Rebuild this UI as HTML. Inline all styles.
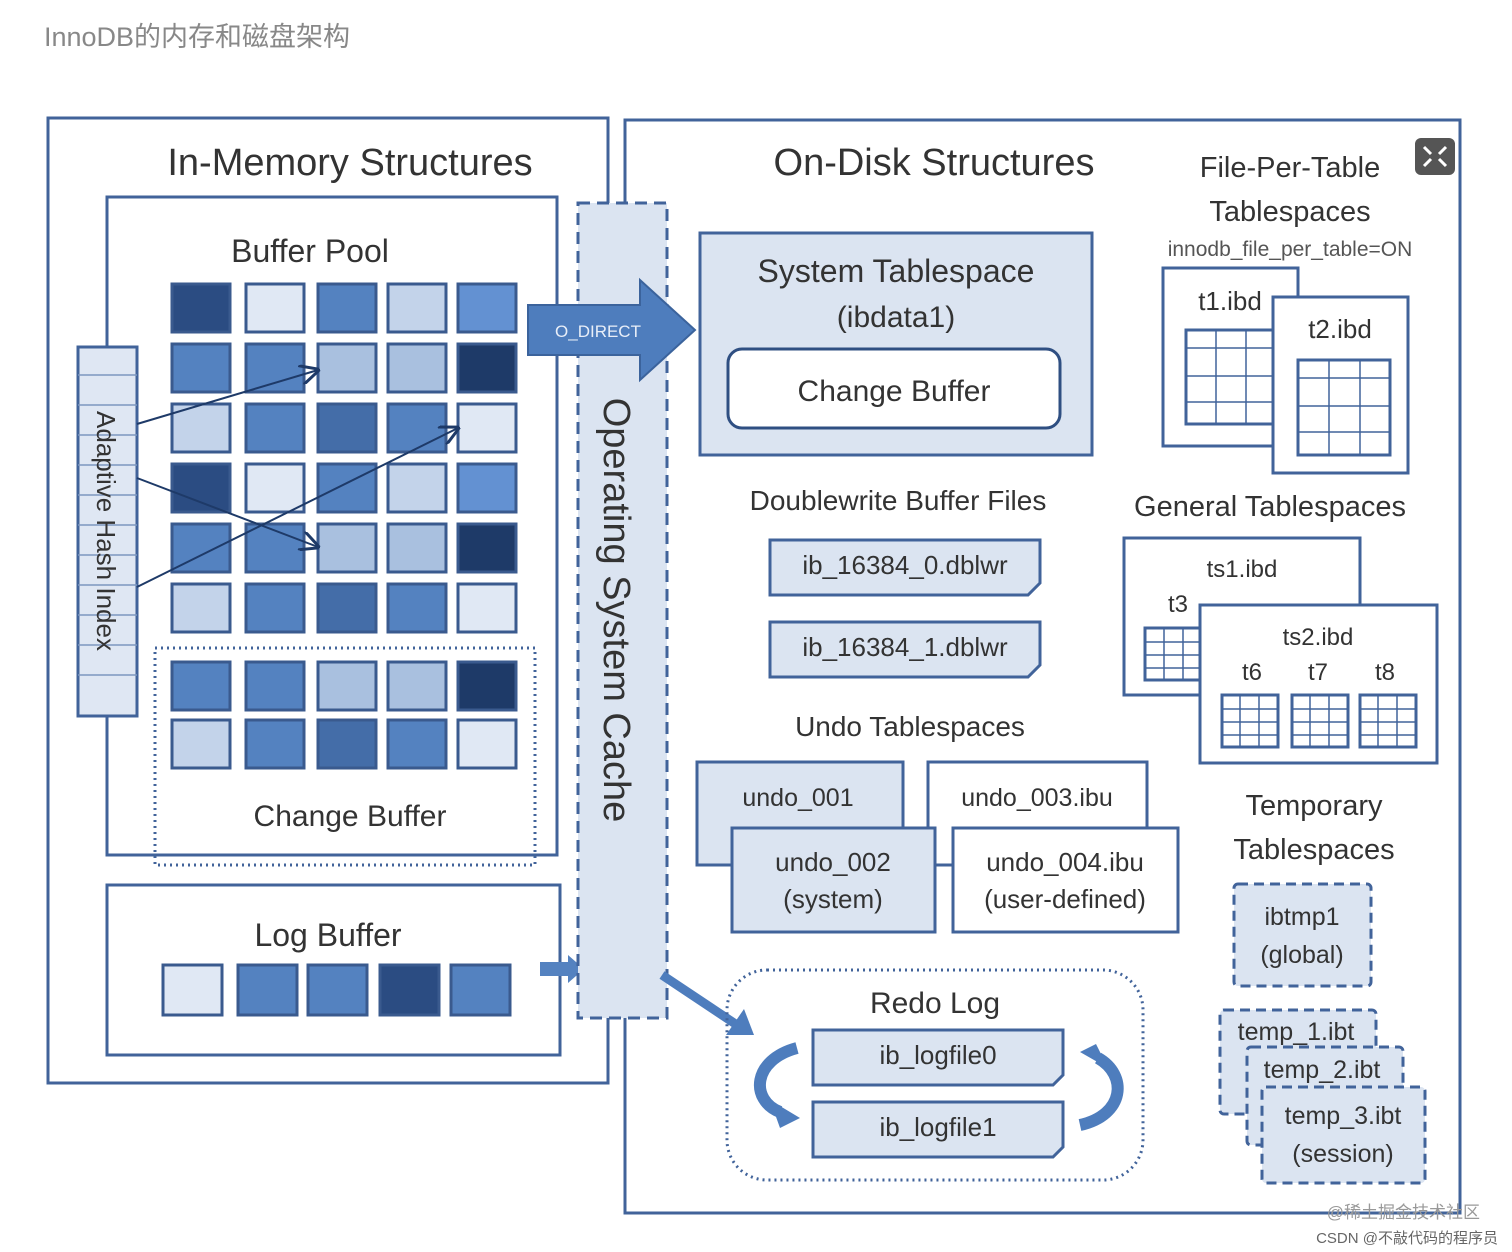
<!DOCTYPE html>
<html><head><meta charset="utf-8"><style>
html,body{margin:0;padding:0;background:#fff;}
svg{display:block;}
text{font-family:"Liberation Sans","Noto Sans CJK SC",sans-serif;fill:#333;}
.b{fill:none;stroke:#41639a;stroke-width:3;}
.c rect{stroke:#3a5a8e;stroke-width:3;}
.d{fill:#2b4c82}.k{fill:#1e3a68}.m{fill:#5482c0}.n{fill:#446da8}.l{fill:#a9c0df}.q{fill:#c3d3ea}.p{fill:#e0e8f4}.x{fill:#6391d2}
.g{fill:#fff;stroke:#41639a;stroke-width:3;}
.gl{stroke:#41639a;stroke-width:1.5;}
</style></head><body>
<svg width="1512" height="1252" viewBox="0 0 1512 1252" xmlns="http://www.w3.org/2000/svg">
<text x="44" y="46" font-size="27" style="fill:#888">InnoDB的内存和磁盘架构</text>

<!-- left outer -->
<rect x="48" y="118" width="560" height="965" class="b"/>
<text x="350" y="175" font-size="38" text-anchor="middle">In-Memory Structures</text>
<rect x="107" y="197" width="450" height="658" class="b"/>
<text x="310" y="262" font-size="32" text-anchor="middle">Buffer Pool</text>

<g class="c">
<rect x="172" y="284" width="58" height="48" class="d"/><rect x="246" y="284" width="58" height="48" class="p"/><rect x="318" y="284" width="58" height="48" class="m"/><rect x="388" y="284" width="58" height="48" class="q"/><rect x="458" y="284" width="58" height="48" class="x"/>
<rect x="172" y="344" width="58" height="48" class="m"/><rect x="246" y="344" width="58" height="48" class="m"/><rect x="318" y="344" width="58" height="48" class="l"/><rect x="388" y="344" width="58" height="48" class="l"/><rect x="458" y="344" width="58" height="48" class="k"/>
<rect x="172" y="404" width="58" height="48" class="q"/><rect x="246" y="404" width="58" height="48" class="m"/><rect x="318" y="404" width="58" height="48" class="n"/><rect x="388" y="404" width="58" height="48" class="m"/><rect x="458" y="404" width="58" height="48" class="p"/>
<rect x="172" y="464" width="58" height="48" class="d"/><rect x="246" y="464" width="58" height="48" class="p"/><rect x="318" y="464" width="58" height="48" class="m"/><rect x="388" y="464" width="58" height="48" class="q"/><rect x="458" y="464" width="58" height="48" class="x"/>
<rect x="172" y="524" width="58" height="48" class="m"/><rect x="246" y="524" width="58" height="48" class="m"/><rect x="318" y="524" width="58" height="48" class="l"/><rect x="388" y="524" width="58" height="48" class="l"/><rect x="458" y="524" width="58" height="48" class="k"/>
<rect x="172" y="584" width="58" height="48" class="q"/><rect x="246" y="584" width="58" height="48" class="m"/><rect x="318" y="584" width="58" height="48" class="n"/><rect x="388" y="584" width="58" height="48" class="m"/><rect x="458" y="584" width="58" height="48" class="p"/>
<rect x="172" y="662" width="58" height="48" class="m"/><rect x="246" y="662" width="58" height="48" class="m"/><rect x="318" y="662" width="58" height="48" class="l"/><rect x="388" y="662" width="58" height="48" class="l"/><rect x="458" y="662" width="58" height="48" class="k"/>
<rect x="172" y="720" width="58" height="48" class="q"/><rect x="246" y="720" width="58" height="48" class="m"/><rect x="318" y="720" width="58" height="48" class="n"/><rect x="388" y="720" width="58" height="48" class="m"/><rect x="458" y="720" width="58" height="48" class="p"/>
</g>
<rect x="155" y="648" width="380" height="217" fill="none" stroke="#41639a" stroke-width="3" stroke-dasharray="2 4"/>
<text x="350" y="826" font-size="30" text-anchor="middle">Change Buffer</text>

<!-- AHI -->
<rect x="78" y="347" width="59" height="369" fill="#dfe7f3" stroke="#41639a" stroke-width="3"/>
<g stroke="#7d97c0" stroke-width="1.5">
<line x1="78" y1="375" x2="137" y2="375"/><line x1="78" y1="405" x2="137" y2="405"/><line x1="78" y1="435" x2="137" y2="435"/><line x1="78" y1="465" x2="137" y2="465"/><line x1="78" y1="495" x2="137" y2="495"/><line x1="78" y1="525" x2="137" y2="525"/><line x1="78" y1="555" x2="137" y2="555"/><line x1="78" y1="585" x2="137" y2="585"/><line x1="78" y1="615" x2="137" y2="615"/><line x1="78" y1="645" x2="137" y2="645"/><line x1="78" y1="675" x2="137" y2="675"/>
</g>
<text transform="translate(97,531) rotate(90)" font-size="26" text-anchor="middle">Adaptive Hash Index</text>
<defs><marker id="ar" markerWidth="10" markerHeight="10" refX="9" refY="5" orient="auto"><path d="M0,0 L10,5 L0,10" fill="none" stroke="#1e3a68" stroke-width="1.5"/></marker></defs>
<g stroke="#1e3a68" stroke-width="2" fill="none" marker-end="url(#ar)">
<line x1="137" y1="424" x2="318" y2="370"/>
<line x1="137" y1="478" x2="318" y2="547"/>
<line x1="137" y1="587" x2="458" y2="428"/>
</g>

<!-- Log buffer -->
<rect x="107" y="885" width="453" height="170" class="b"/>
<text x="328" y="946" font-size="32" text-anchor="middle">Log Buffer</text>
<g class="c">
<rect x="163" y="965" width="59" height="50" class="p"/><rect x="238" y="965" width="59" height="50" class="m"/><rect x="308" y="965" width="59" height="50" class="m"/><rect x="380" y="965" width="59" height="50" class="d"/><rect x="451" y="965" width="59" height="50" class="m"/>
</g>
<path d="M540,962 L568,962 L568,955 L584,969 L568,983 L568,976 L540,976 Z" fill="#5482c0"/>

<!-- right outer -->
<rect x="625" y="120" width="835" height="1093" class="b"/>
<rect x="1415" y="138" width="40" height="37" rx="6" fill="#555"/>
<path d="M1424,147 l7,7 M1446,147 l-7,7 M1424,166 l7,-7 M1446,166 l-7,-7" stroke="#fff" stroke-width="3"/>

<!-- OS cache -->
<rect x="578" y="203" width="89" height="815" fill="#dbe4f1" stroke="#41639a" stroke-width="3" stroke-dasharray="12 7"/>
<text transform="translate(604,610) rotate(90)" font-size="38" text-anchor="middle">Operating System Cache</text>
<path d="M528,305 L640,305 L640,280 L695,330 L640,380 L640,355 L528,355 Z" fill="#4e7dbd" stroke="#3b639c" stroke-width="2"/>
<text x="598" y="337" font-size="17" text-anchor="middle" style="fill:#e8eef8">O_DIRECT</text>
<path d="M662,975 L737,1025" stroke="#4e7dbd" stroke-width="9"/>
<path d="M726,1035 L754,1035 L744,1009 Z" fill="#4e7dbd"/>

<text x="934" y="175" font-size="38" text-anchor="middle">On-Disk Structures</text>

<!-- System tablespace -->
<rect x="700" y="233" width="392" height="222" fill="#dbe4f1" stroke="#41639a" stroke-width="3"/>
<text x="896" y="282" font-size="32" text-anchor="middle">System Tablespace</text>
<text x="896" y="327" font-size="30" text-anchor="middle">(ibdata1)</text>
<rect x="728" y="349" width="332" height="79" rx="14" fill="#fff" stroke="#2f4f82" stroke-width="3"/>
<text x="894" y="401" font-size="30" text-anchor="middle">Change Buffer</text>

<text x="898" y="510" font-size="28" text-anchor="middle">Doublewrite Buffer Files</text>
<path d="M770,540 L1040,540 L1040,583 L1028,595 L770,595 Z" fill="#dbe4f1" stroke="#41639a" stroke-width="3"/>
<text x="905" y="574" font-size="26" text-anchor="middle">ib_16384_0.dblwr</text>
<path d="M770,622 L1040,622 L1040,665 L1028,677 L770,677 Z" fill="#dbe4f1" stroke="#41639a" stroke-width="3"/>
<text x="905" y="656" font-size="26" text-anchor="middle">ib_16384_1.dblwr</text>

<text x="910" y="736" font-size="28" text-anchor="middle">Undo Tablespaces</text>
<rect x="697" y="762" width="206" height="103" fill="#dbe4f1" stroke="#41639a" stroke-width="3"/>
<text x="798" y="806" font-size="25" text-anchor="middle">undo_001</text>
<rect x="928" y="762" width="219" height="103" fill="#fff" stroke="#41639a" stroke-width="3"/>
<text x="1037" y="806" font-size="25" text-anchor="middle">undo_003.ibu</text>
<rect x="732" y="828" width="203" height="104" fill="#dbe4f1" stroke="#41639a" stroke-width="3"/>
<text x="833" y="871" font-size="26" text-anchor="middle">undo_002</text>
<text x="833" y="908" font-size="26" text-anchor="middle">(system)</text>
<rect x="953" y="828" width="225" height="104" fill="#fff" stroke="#41639a" stroke-width="3"/>
<text x="1065" y="871" font-size="26" text-anchor="middle">undo_004.ibu</text>
<text x="1065" y="908" font-size="26" text-anchor="middle">(user-defined)</text>

<!-- Redo -->
<rect x="727" y="970" width="416" height="210" rx="40" fill="none" stroke="#41639a" stroke-width="3" stroke-dasharray="2 4"/>
<text x="935" y="1013" font-size="30" text-anchor="middle">Redo Log</text>
<path d="M813,1030 L1063,1030 L1063,1075 L1053,1085 L813,1085 Z" fill="#dbe4f1" stroke="#41639a" stroke-width="3"/>
<text x="938" y="1064" font-size="26" text-anchor="middle">ib_logfile0</text>
<path d="M813,1102 L1063,1102 L1063,1147 L1053,1157 L813,1157 Z" fill="#dbe4f1" stroke="#41639a" stroke-width="3"/>
<text x="938" y="1136" font-size="26" text-anchor="middle">ib_logfile1</text>
<path d="M797,1048 C752,1060 750,1100 780,1112" fill="none" stroke="#4e7dbd" stroke-width="12"/>
<path d="M770,1100 L800,1118 L780,1128 Z" fill="#4e7dbd"/>
<path d="M1080,1125 C1125,1115 1128,1075 1098,1058" fill="none" stroke="#4e7dbd" stroke-width="12"/>
<path d="M1108,1068 L1080,1052 L1096,1044 Z" fill="#4e7dbd"/>

<!-- File-per-table -->
<text x="1290" y="177" font-size="29" text-anchor="middle">File-Per-Table</text>
<text x="1290" y="221" font-size="29" text-anchor="middle">Tablespaces</text>
<text x="1290" y="256" font-size="21" text-anchor="middle" style="fill:#555">innodb_file_per_table=ON</text>
<rect x="1163" y="268" width="135" height="178" class="g"/>
<text x="1230" y="310" font-size="26" text-anchor="middle">t1.ibd</text>
<rect x="1186" y="330" width="90" height="94" class="g"/>
<g class="gl"><line x1="1216" y1="330" x2="1216" y2="424"/><line x1="1246" y1="330" x2="1246" y2="424"/><line x1="1186" y1="348" x2="1276" y2="348"/><line x1="1186" y1="376" x2="1276" y2="376"/><line x1="1186" y1="402" x2="1276" y2="402"/></g>
<rect x="1273" y="297" width="135" height="176" class="g"/>
<text x="1340" y="338" font-size="26" text-anchor="middle">t2.ibd</text>
<rect x="1298" y="360" width="92" height="95" class="g"/>
<g class="gl"><line x1="1329" y1="360" x2="1329" y2="455"/><line x1="1360" y1="360" x2="1360" y2="455"/><line x1="1298" y1="378" x2="1390" y2="378"/><line x1="1298" y1="406" x2="1390" y2="406"/><line x1="1298" y1="432" x2="1390" y2="432"/></g>

<!-- General -->
<text x="1270" y="516" font-size="29" text-anchor="middle">General Tablespaces</text>
<rect x="1124" y="538" width="236" height="157" class="g"/>
<text x="1242" y="577" font-size="24" text-anchor="middle">ts1.ibd</text>
<text x="1178" y="612" font-size="24" text-anchor="middle">t3</text>
<rect x="1145" y="628" width="58" height="52" class="g"/>
<g class="gl"><line x1="1164" y1="628" x2="1164" y2="680"/><line x1="1183" y1="628" x2="1183" y2="680"/><line x1="1145" y1="642" x2="1203" y2="642"/><line x1="1145" y1="655" x2="1203" y2="655"/><line x1="1145" y1="668" x2="1203" y2="668"/></g>
<rect x="1200" y="605" width="237" height="158" class="g"/>
<text x="1318" y="645" font-size="24" text-anchor="middle">ts2.ibd</text>
<text x="1252" y="680" font-size="24" text-anchor="middle">t6</text>
<text x="1318" y="680" font-size="24" text-anchor="middle">t7</text>
<text x="1385" y="680" font-size="24" text-anchor="middle">t8</text>
<rect x="1222" y="695" width="56" height="52" class="g"/><rect x="1292" y="695" width="56" height="52" class="g"/><rect x="1360" y="695" width="56" height="52" class="g"/>
<g class="gl">
<line x1="1240" y1="695" x2="1240" y2="747"/><line x1="1259" y1="695" x2="1259" y2="747"/><line x1="1222" y1="709" x2="1278" y2="709"/><line x1="1222" y1="722" x2="1278" y2="722"/><line x1="1222" y1="735" x2="1278" y2="735"/>
<line x1="1310" y1="695" x2="1310" y2="747"/><line x1="1329" y1="695" x2="1329" y2="747"/><line x1="1292" y1="709" x2="1348" y2="709"/><line x1="1292" y1="722" x2="1348" y2="722"/><line x1="1292" y1="735" x2="1348" y2="735"/>
<line x1="1378" y1="695" x2="1378" y2="747"/><line x1="1397" y1="695" x2="1397" y2="747"/><line x1="1360" y1="709" x2="1416" y2="709"/><line x1="1360" y1="722" x2="1416" y2="722"/><line x1="1360" y1="735" x2="1416" y2="735"/>
</g>

<!-- Temporary -->
<text x="1314" y="815" font-size="29" text-anchor="middle">Temporary</text>
<text x="1314" y="859" font-size="29" text-anchor="middle">Tablespaces</text>
<g fill="#dbe4f1" stroke="#41639a" stroke-width="3" stroke-dasharray="10 6">
<rect x="1234" y="884" width="137" height="102" rx="4"/>
<rect x="1220" y="1010" width="156" height="104" rx="4"/>
<rect x="1247" y="1047" width="156" height="98" rx="4"/>
<rect x="1262" y="1087" width="163" height="96" rx="4"/>
</g>
<text x="1302" y="925" font-size="25" text-anchor="middle">ibtmp1</text>
<text x="1302" y="963" font-size="25" text-anchor="middle">(global)</text>
<text x="1296" y="1040" font-size="25" text-anchor="middle">temp_1.ibt</text>
<text x="1322" y="1078" font-size="25" text-anchor="middle">temp_2.ibt</text>
<text x="1343" y="1124" font-size="25" text-anchor="middle">temp_3.ibt</text>
<text x="1343" y="1162" font-size="25" text-anchor="middle">(session)</text>

<text x="1480" y="1218" font-size="17" text-anchor="end" style="fill:#999">@稀土掘金技术社区</text>
<text x="1498" y="1243" font-size="15" text-anchor="end" style="fill:#666">CSDN @不敲代码的程序员</text>
</svg>
</body></html>
